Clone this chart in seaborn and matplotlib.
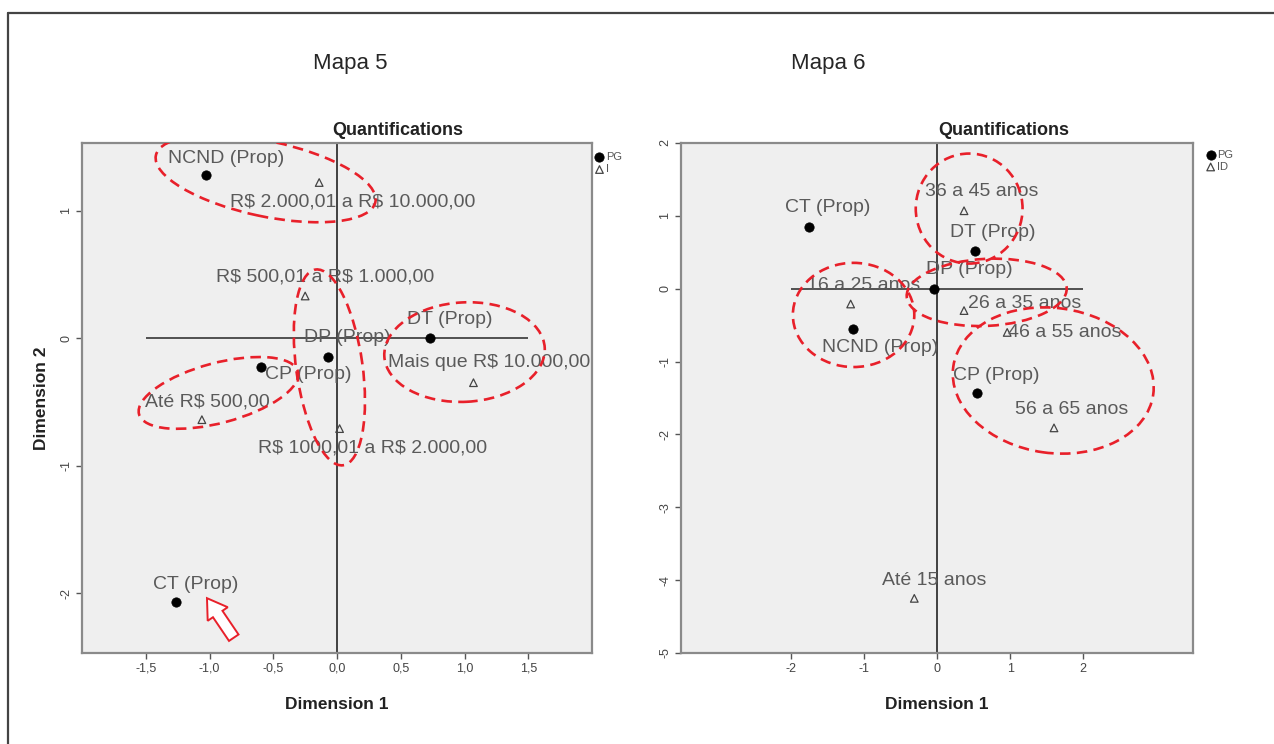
import matplotlib
matplotlib.use("Agg")
import matplotlib.pyplot as plt
import pandas as pd
import seaborn as sns
from matplotlib.lines import Line2D
from matplotlib.patches import Ellipse, FancyArrow

# Mapa 5: income quantifications
m5_pg_labels = ["NCND (Prop)", "DT (Prop)", "DP (Prop)", "CP (Prop)", "CT (Prop)"]
m5_pg_x = [-1.03, 0.73, -0.07, -0.60, -1.26]
m5_pg_y = [1.28, 0.00, -0.15, -0.23, -2.07]
m5_i_labels = ["R$ 2.000,01 a R$ 10.000,00", "R$ 500,01 a R$ 1.000,00",
               "Mais que R$ 10.000,00", "Até R$ 500,00", "R$ 1000,01 a R$ 2.000,00"]
m5_i_x = [-0.14, -0.25, 1.07, -1.06, 0.02]
m5_i_y = [1.22, 0.33, -0.35, -0.64, -0.71]

# Mapa 6: age quantifications
m6_pg_labels = ["CT (Prop)", "DT (Prop)", "DP (Prop)", "NCND (Prop)", "CP (Prop)"]
m6_pg_x = [-1.75, 0.52, -0.04, -1.15, 0.55]
m6_pg_y = [0.85, 0.52, 0.00, -0.55, -1.43]
m6_id_labels = ["36 a 45 anos", "16 a 25 anos", "26 a 35 anos", "46 a 55 anos",
                "56 a 65 anos", "Até 15 anos"]
m6_id_x = [0.37, -1.18, 0.37, 0.96, 1.60, -0.31]
m6_id_y = [1.07, -0.21, -0.30, -0.60, -1.91, -4.25]

# label offsets in pixels (dx, dy) from each point
m5_pg_off = [(20, 16), (20, 19), (19, 20), (48, -7), (19, 18)]
m5_i_off = [(34, -19), (20, 19), (16, 20), (5, 18), (33, -19)]
m6_pg_off = [(19, 19), (18, 18), (35, 19), (27, -19), (19, 17)]
m6_id_off = [(18, 19), (13, 19), (61, 7), (58, 0), (18, 18), (20, 18)]

# red dashed highlight ellipses: (cx, cy, width, height, angle)
m5_ellipses = [(-0.56, 1.25, 1.76, 0.59, -12), (-0.06, -0.23, 1.55, 0.52, 98),
               (1.00, -0.11, 1.26, 0.78, 3), (-0.93, -0.43, 1.29, 0.47, 15)]
m6_ellipses = [(0.44, 1.10, 1.46, 1.51, 0), (-1.14, -0.36, 1.66, 1.43, 0),
               (0.68, -0.05, 2.19, 0.92, 3), (1.59, -1.26, 2.76, 1.99, -8)]

sns.set_style("white")
plt.rcParams["font.family"] = ["Liberation Sans", "DejaVu Sans"]
plt.rcParams["text.parse_math"] = False

RED = "#e8202a"
LABEL_COL = "#5a5a5a"

fig = plt.figure(figsize=(12.74, 7.44), dpi=100)
ax5 = fig.add_axes([0.0644, 0.1223, 0.4003, 0.6855])
ax6 = fig.add_axes([0.5345, 0.1223, 0.4019, 0.6855])


def draw_map(ax, pg_lab, pg_x, pg_y, tr_lab, tr_x, tr_y, pg_off, tr_off, tr_name, ellipses):
    ax.set_facecolor("#efefef")
    ax.axvline(0, color="#333333", lw=1.3, zorder=1)
    pg = pd.DataFrame({"x": pg_x, "y": pg_y, "label": pg_lab})
    tr = pd.DataFrame({"x": tr_x, "y": tr_y, "label": tr_lab})
    sns.scatterplot(data=pg, x="x", y="y", ax=ax, color="black", s=45,
                    marker="o", edgecolor="black", zorder=3, label="PG")
    sns.scatterplot(data=tr, x="x", y="y", ax=ax, marker="^", s=30,
                    facecolor="none", edgecolor="#444444", linewidth=0.9,
                    zorder=3, label=tr_name)
    for df, offs in ((pg, pg_off), (tr, tr_off)):
        for (_, r), (dx, dy) in zip(df.iterrows(), offs):
            ax.annotate(r["label"], (r["x"], r["y"]), xytext=(dx, dy),
                        textcoords="offset pixels", ha="center", va="center",
                        fontsize=14, color=LABEL_COL, zorder=4)
    for cx, cy, w, h, a in ellipses:
        ax.add_patch(Ellipse((cx, cy), w, h, angle=a, fill=False, edgecolor=RED,
                             lw=1.9, linestyle=(0, (4, 2.4)), zorder=5))
    for sp in ax.spines.values():
        sp.set_visible(True)
        sp.set_color("#8a8a8a")
        sp.set_linewidth(1.6)
    ax.tick_params(axis="both", which="both", direction="out", length=4,
                   width=1, color="#555555", labelsize=9, labelcolor="#444444",
                   bottom=True, left=True, pad=3)
    ax.set_title("Quantifications", fontsize=13, fontweight="bold",
                 color="#222222", pad=6)
    ax.set_xlabel("Dimension 1", fontsize=12.5, fontweight="bold",
                  color="#222222", labelpad=16)
    leg = ax.legend(loc="upper left", bbox_to_anchor=(0.995, 0.995), frameon=False,
                    fontsize=8, handlelength=0.6, handletextpad=0.3,
                    labelspacing=0.2, borderaxespad=0.2, markerscale=1.0)
    for t in leg.get_texts():
        t.set_color("#555555")


draw_map(ax5, m5_pg_labels, m5_pg_x, m5_pg_y, m5_i_labels, m5_i_x, m5_i_y,
         m5_pg_off, m5_i_off, "I", m5_ellipses)
ax5.hlines(0, -1.5, 1.5, color="#444444", lw=1.3, zorder=1)
ax5.set_xlim(-2, 2)
ax5.set_ylim(-2.47, 1.53)
ax5.set_xticks([-1.5, -1.0, -0.5, 0.0, 0.5, 1.0, 1.5],
               ["-1,5", "-1,0", "-0,5", "0,0", "0,5", "1,0", "1,5"])
ax5.set_yticks([1, 0, -1, -2], ["1", "0", "-1", "-2"], rotation=90, va="center")
ax5.set_ylabel("Dimension 2", fontsize=12.5, fontweight="bold",
               color="#222222", labelpad=8)
ax5.title.set_position((0.62, 1.0))
ax5.add_patch(FancyArrow(-0.81, -2.35, -0.21, 0.31, width=0.09, head_width=0.19,
                         head_length=0.15, length_includes_head=True,
                         facecolor="white", edgecolor=RED, lw=1.4, zorder=5))

draw_map(ax6, m6_pg_labels, m6_pg_x, m6_pg_y, m6_id_labels, m6_id_x, m6_id_y,
         m6_pg_off, m6_id_off, "ID", m6_ellipses)
ax6.hlines(0, -2, 2, color="#444444", lw=1.3, zorder=1)
ax6.set_xlim(-3.5, 3.5)
ax6.set_ylim(-5, 2)
ax6.set_xticks([-2, -1, 0, 1, 2], ["-2", "-1", "0", "1", "2"])
ax6.set_yticks([2, 1, 0, -1, -2, -3, -4, -5],
               ["2", "1", "0", "-1", "-2", "-3", "-4", "-5"], rotation=90, va="center")
ax6.set_ylabel("")
ax6.title.set_position((0.63, 1.0))
ax6.get_legend().set_bbox_to_anchor((1.015, 1.0))

fig.text(350 / 1274, 1 - 64 / 744, "Mapa 5", fontsize=16, ha="center", va="center")
fig.text(828 / 1274, 1 - 64 / 744, "Mapa 6", fontsize=16, ha="center", va="center")

# outer frame (top and left edges visible)
fig.add_artist(Line2D([8 / 1274, 1.0], [1 - 13 / 744, 1 - 13 / 744],
                      color="#444444", lw=1.6))
fig.add_artist(Line2D([8 / 1274, 8 / 1274], [0, 1 - 13 / 744],
                      color="#444444", lw=1.6))

fig.savefig("out.png", dpi=100, facecolor="white")
